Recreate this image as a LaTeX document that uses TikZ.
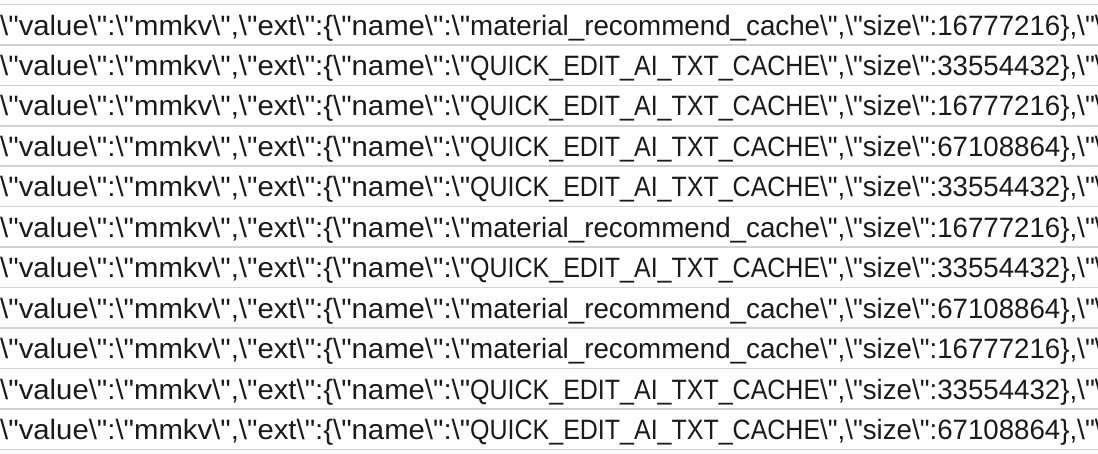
\documentclass[tikz,border=0pt]{standalone}
\usepackage{fontspec}
\usepackage{graphicx}
\usepackage{tikz}
\newfontfamily\cellfont{Liberation Sans}[Ligatures=ResetAll]
\definecolor{gridgray}{HTML}{D2D2D2}
\definecolor{celltext}{HTML}{1A1A1A}
\def\bs{\textbackslash}
\def\dq{\symbol{34}}
\def\matname{material\_recommend\_cache}
\def\quickname{QUICK\_EDIT\_AI\_TXT\_CACHE}
\def\fitw#1#2{\resizebox{#1}{\height}{#2}}
\def\cellrow#1#2{\fitw{470pt}{\bs\dq value\bs\dq:\bs\dq mmkv\bs\dq,\bs\dq ext\bs\dq:\{\bs\dq name\bs\dq:\bs\dq}%
\fitw{350pt}{#1}\fitw{257pt}{\bs\dq,\bs\dq size\bs\dq:#2\},}\bs\dq\bs\dq}

\begin{document}
\begin{tikzpicture}[x=1pt,y=-1pt,
		cell/.style={anchor=base west,inner sep=0pt,text=celltext,
			font=\cellfont\fontsize{28}{34}\selectfont}]
			\useasboundingbox (0,0) rectangle (1098,453);
			\clip (0,0) rectangle (1098,453);
			\fill[white] (0,0) rectangle (1098,453);
			% row lines
			\foreach \k in {0,...,11}
				\draw[gridgray,line width=1.5pt] (0,4.4+40.45*\k) -- (1098,4.4+40.45*\k);
			% cell texts
			\foreach \nm/\sz [count=\i from 0] in {\quickname/33554432,
					\matname/16777216,\quickname/33554432,\quickname/16777216,
					\quickname/67108864,\quickname/33554432,\matname/16777216,
					\quickname/33554432,\matname/67108864,\matname/16777216,
					\quickname/33554432,\quickname/67108864}
				\node[cell] (r\i) at (0,-5.45+40.45*\i) {\cellrow{\nm}{\sz}};
		\end{tikzpicture}
\end{document}
